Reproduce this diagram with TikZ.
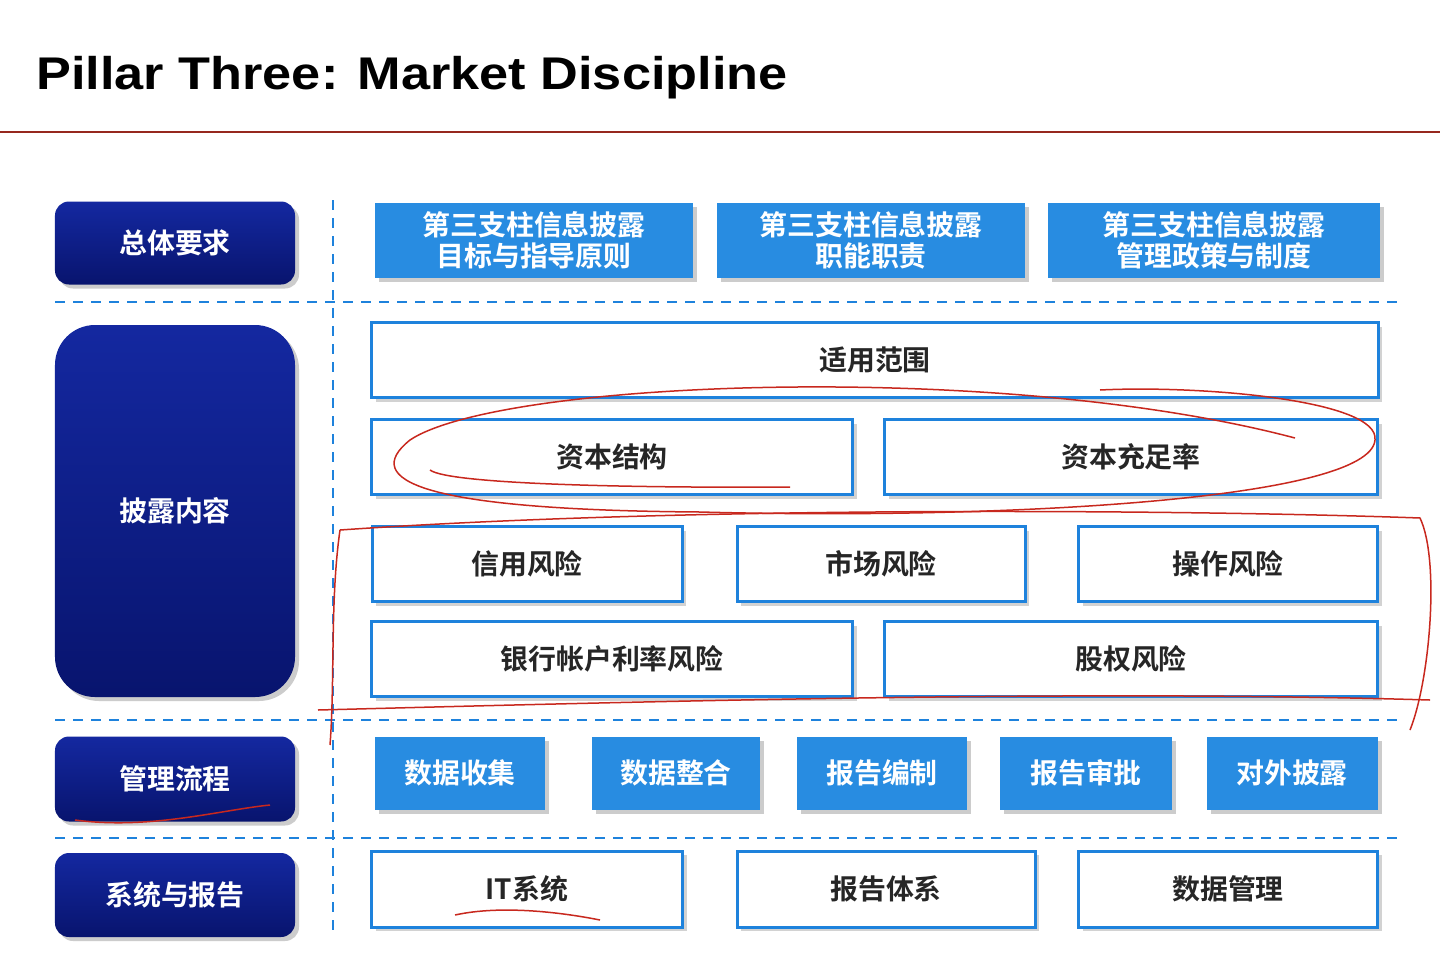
\documentclass[tikz,border=0pt]{standalone}
\usepackage{fontspec}
\setmainfont{Liberation Sans}
\newfontfamily\cjk{Noto Sans CJK SC}[BoldFont={Noto Sans CJK SC Bold}]
\begin{document}
\begin{tikzpicture}[x=1bp,y=-1bp,
  navy/.style={rounded corners=14bp,top color={rgb,255:red,20;green,40;blue,160},bottom color={rgb,255:red,8;green,20;blue,110},draw=none,
    text=white,font=\cjk\bfseries\fontsize{28}{32}\selectfont,drop shadow={shadow xshift=4bp,shadow yshift=-4bp,opacity=.4}},
  bluebox/.style={fill={rgb,255:red,40;green,140;blue,225},draw=none,text=white,font=\cjk\bfseries\fontsize{28}{31}\selectfont,align=center,
    drop shadow={shadow xshift=4bp,shadow yshift=-4bp,opacity=.4}},
  whitebox/.style={fill=white,draw={rgb,255:red,30;green,130;blue,220},line width=3bp,text=black!85,font=\cjk\bfseries\fontsize{28}{32}\selectfont,
    drop shadow={shadow xshift=4bp,shadow yshift=-4bp,opacity=.35}},
  sep/.style={dashed,dash pattern=on 10bp off 8bp,draw={rgb,255:red,30;green,130;blue,220},line width=2.5bp},
  ink/.style={draw={rgb,255:red,200;green,40;blue,30},line width=1.5bp}]
\usetikzlibrary{shadows}
\useasboundingbox (0,0) rectangle (1440,974);
\fill[white] (0,0) rectangle (1440,974);
\node[anchor=west,font=\bfseries\fontsize{46}{50}\selectfont] (title) at (33,78) {\scalebox{1.14}[1]{Pillar Three: Market Discipline}};
\draw[line width=2bp,draw={rgb,255:red,150;green,40;blue,30}] (0,132) coordinate (l1) -- (1440,132) coordinate (l2);
% separators
\draw[sep] (333,200) coordinate (v1) -- (333,935) coordinate (v2);
\draw[sep] (55,302) coordinate (h1) -- (1400,302) coordinate (h2);
\draw[sep] (55,720) coordinate (h3) -- (1400,720) coordinate (h4);
\draw[sep] (55,838) coordinate (h5) -- (1400,838) coordinate (h6);
% left
\node[navy,minimum width=240bp,minimum height=83bp] (a) at (175,243) {总体要求};
\node[navy,minimum width=240bp,minimum height=372bp,rounded corners=40bp] (b) at (175,511) {披露内容};
\node[navy,minimum width=240bp,minimum height=85bp] (c) at (175,779) {管理流程};
\node[navy,minimum width=240bp,minimum height=84bp] (d) at (175,895) {系统与报告};
% top
\node[bluebox,minimum width=318bp,minimum height=75bp] (t1) at (534,240) {第三支柱信息披露\\目标与指导原则};
\node[bluebox,minimum width=308bp,minimum height=75bp] (t2) at (871,240) {第三支柱信息披露\\职能职责};
\node[bluebox,minimum width=332bp,minimum height=75bp] (t3) at (1214,240) {第三支柱信息披露\\管理政策与制度};
% content
\node[whitebox,minimum width=1006bp,minimum height=75bp] (s) at (875,360) {适用范围};
\node[whitebox,minimum width=481bp,minimum height=75bp] (k1) at (612,457) {资本结构};
\node[whitebox,minimum width=493bp,minimum height=75bp] (k2) at (1131,457) {资本充足率};
\node[whitebox,minimum width=310bp,minimum height=75bp] (r1) at (527,564) {信用风险};
\node[whitebox,minimum width=288bp,minimum height=75bp] (r2) at (881,564) {市场风险};
\node[whitebox,minimum width=299bp,minimum height=75bp] (r3) at (1228,564) {操作风险};
\node[whitebox,minimum width=481bp,minimum height=75bp] (r4) at (612,659) {银行帐户利率风险};
\node[whitebox,minimum width=493bp,minimum height=75bp] (r5) at (1131,659) {股权风险};
% process
\node[bluebox,minimum width=170bp,minimum height=73bp] (p1) at (460,773) {数据收集};
\node[bluebox,minimum width=168bp,minimum height=73bp] (p2) at (676,773) {数据整合};
\node[bluebox,minimum width=170bp,minimum height=73bp] (p3) at (882,773) {报告编制};
\node[bluebox,minimum width=172bp,minimum height=73bp] (p4) at (1086,773) {报告审批};
\node[bluebox,minimum width=171bp,minimum height=73bp] (p5) at (1292,773) {对外披露};
% systems
\node[whitebox,minimum width=311bp,minimum height=76bp] (y1) at (527,889) {IT系统};
\node[whitebox,minimum width=298bp,minimum height=76bp] (y2) at (886,889) {报告体系};
\node[whitebox,minimum width=299bp,minimum height=76bp] (y3) at (1228,889) {数据管理};
% annotations
\draw[ink] (1295,438) .. controls (1000,360) and (500,380) .. (410,440) .. controls (360,480) and (420,510) .. (700,512)
  .. controls (1000,520) and (1370,500) .. (1375,440) .. controls (1380,400) and (1200,385) .. (1100,390);
\draw[ink] (430,470) .. controls (450,485) and (650,488) .. (790,487);
\draw[ink] (340,530) .. controls (700,505) and (1200,510) .. (1420,518) .. controls (1440,560) and (1430,680) .. (1410,730);
\draw[ink] (340,530) .. controls (330,600) and (335,680) .. (330,745);
\draw[ink] (318,710) .. controls (700,700) and (1100,690) .. (1430,700);
\draw[ink] (75,820) .. controls (150,830) and (220,810) .. (270,805);
\draw[ink] (455,915) .. controls (500,905) and (560,912) .. (600,920);
\end{tikzpicture}
\end{document}
